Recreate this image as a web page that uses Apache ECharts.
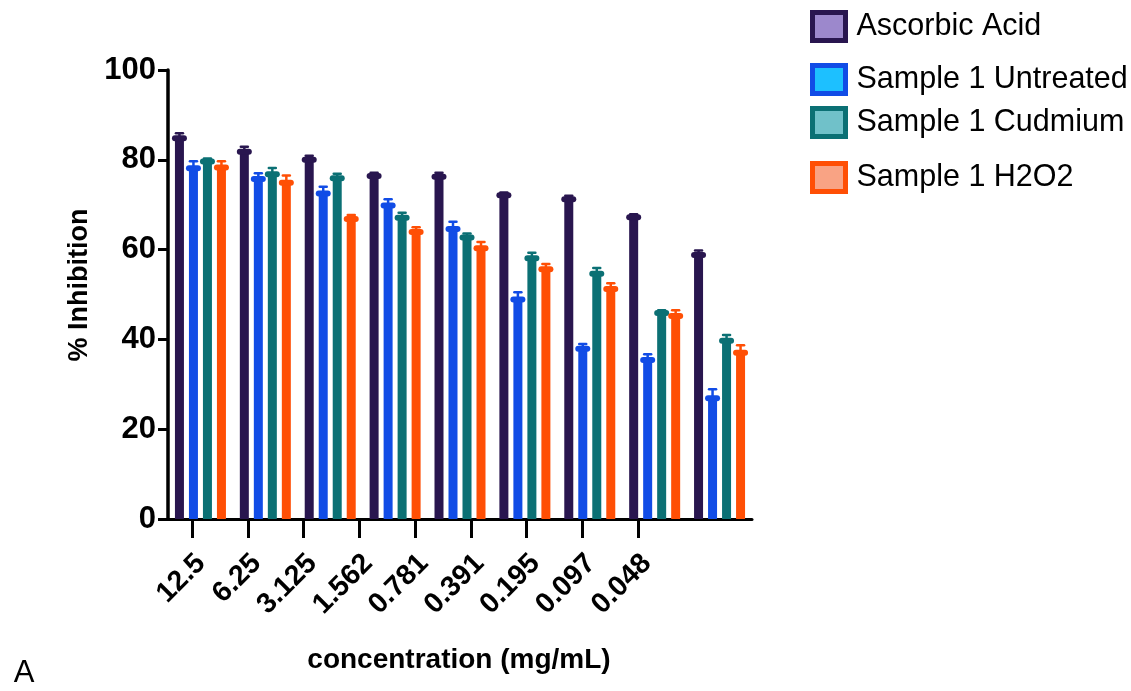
<!DOCTYPE html>
<html>
<head>
<meta charset="utf-8">
<script src="https://cdn.jsdelivr.net/npm/echarts@6/dist/echarts.min.js"></script>
<style>
html,body{margin:0;padding:0;background:#fff;}
#chart{width:1131px;height:691px;}
</style>
</head>
<body>
<div id="chart"></div>
<script>
// ---- data ----
const categories = ['12.5', '6.25', '3.125', '1.562', '0.781', '0.391', '0.195', '0.097', '0.048'];
const seriesNames = ['Ascorbic Acid', 'Sample 1 Untreated', 'Sample 1 Cudmium', 'Sample 1 H2O2'];
const ascorbicMean   = [84.8, 81.8, 80.0, 76.4, 76.2, 72.1, 71.2, 67.2, 58.8];
const ascorbicSD     = [1.1, 1.1, 0.9, 0.7, 0.9, 0.6, 0.8, 0.7, 1.0];
const untreatedMean  = [78.1, 75.7, 72.5, 69.8, 64.6, 48.9, 37.9, 35.4, 26.9];
const untreatedSD    = [1.6, 1.3, 1.5, 1.4, 1.6, 1.6, 1.1, 1.3, 2.0];
const cudmiumMean    = [79.6, 76.8, 75.9, 67.1, 62.7, 58.1, 54.6, 45.9, 39.7];
const cudmiumSD      = [0.7, 1.4, 1.0, 1.1, 0.9, 1.2, 1.3, 0.6, 1.3];
const h2o2Mean       = [78.3, 74.9, 66.8, 63.9, 60.3, 55.6, 51.2, 45.2, 37.0];
const h2o2SD         = [1.4, 1.6, 0.9, 1.1, 1.4, 1.2, 1.3, 1.3, 1.7];
const yTicks = [0, 20, 40, 60, 80, 100];

// ---- styles ----
const barColors  = ['#29164f', '#114ce6', '#0b7074', '#ff4f05'];
const lightFills = ['#9c88cc', '#1dc0ff', '#70c1c9', '#f9a384'];
const BAR_W = 9, BAR_GAP = 5;
const FONT = '"Liberation Sans", Arial, sans-serif';

const means = [ascorbicMean, untreatedMean, cudmiumMean, h2o2Mean];
const sds = [ascorbicSD, untreatedSD, cudmiumSD, h2o2SD];

const barSeries = seriesNames.map((name, k) => ({
  name: name,
  type: 'bar',
  xAxisIndex: 0, yAxisIndex: 0,
  barWidth: BAR_W,
  barGap: (BAR_GAP / BAR_W * 100) + '%',
  itemStyle: { color: barColors[k] },
  data: means[k],
  z: 2
}));

const errSeries = seriesNames.map((name, k) => ({
  name: 'err ' + name,
  type: 'custom',
  xAxisIndex: 0, yAxisIndex: 0,
  z: 3,
  data: means[k].map((v, i) => [i, v, sds[k][i]]),
  encode: { x: 0, y: 1 },
  renderItem: function (params, api) {
    const i = api.value(0), v = api.value(1), e = api.value(2);
    const base = api.coord([i, v]);
    const top = api.coord([i, v + e]);
    const n = seriesNames.length;
    const offset = (k - (n - 1) / 2) * (BAR_W + BAR_GAP);
    const cx = base[0] + offset;
    const col = barColors[k];
    return {
      type: 'group',
      children: [
        { type: 'line', shape: { x1: cx, y1: base[1], x2: cx, y2: top[1] }, style: { stroke: col, lineWidth: 2.5 } },
        { type: 'line', shape: { x1: cx - 3.5, y1: top[1], x2: cx + 3.5, y2: top[1] }, style: { stroke: col, lineWidth: 2.5, lineCap: 'round' } },
        { type: 'rect', shape: { x: cx - 7.5, y: base[1] - 3, width: 15, height: 6, r: 3 }, style: { fill: col } }
      ]
    };
  }
}));

const legendTops = [10, 63, 106, 161];
const legends = seriesNames.map((name, k) => ({
  left: 810,
  top: legendTops[k],
  padding: 0,
  orient: 'vertical',
  icon: 'rect',
  itemWidth: 33,
  itemHeight: 28,
  selectedMode: false,
  data: [{ name: name, itemStyle: { color: lightFills[k], borderColor: barColors[k], borderWidth: 5 } }],
  textStyle: { fontFamily: FONT, fontSize: 30.5, color: '#000', padding: [0, 0, 0, 6] }
}));

const chart = echarts.init(document.getElementById('chart'), null, { renderer: 'canvas' });
chart.setOption({
  backgroundColor: '#fff',
  animation: false,
  legend: legends,
  grid: [
    { left: 168, top: 70, width: 584, height: 449 },
    { left: 192, top: 70, width: 446, height: 449 },
    { left: 201, top: 70, width: 446, height: 449 }
  ],
  xAxis: [
    {
      type: 'category', gridIndex: 0, data: categories,
      axisLine: { show: true, lineStyle: { color: '#000', width: 3 } },
      axisTick: { show: false },
      axisLabel: { show: false },
      splitLine: { show: false }
    },
    {
      type: 'category', gridIndex: 1, data: categories, boundaryGap: false,
      axisLine: { show: false },
      axisTick: { show: true, length: 19, lineStyle: { color: '#000', width: 3 } },
      axisLabel: { show: false },
      splitLine: { show: false }
    },
    {
      type: 'category', gridIndex: 2, data: categories, boundaryGap: false,
      axisLine: { show: false },
      axisTick: { show: false },
      axisLabel: { show: true, rotate: 45, margin: 40, fontFamily: FONT, fontWeight: 'bold', fontSize: 28.5, color: '#000' },
      splitLine: { show: false }
    }
  ],
  yAxis: [
    {
      type: 'value', gridIndex: 0, min: yTicks[0], max: yTicks[yTicks.length - 1], interval: yTicks[1] - yTicks[0],
      axisLine: { show: true, lineStyle: { color: '#000', width: 3.5 } },
      axisTick: { show: true, length: 10, lineStyle: { color: '#000', width: 3 } },
      axisLabel: { margin: 12, fontFamily: FONT, fontWeight: 'bold', fontSize: 31, color: '#000' },
      splitLine: { show: false }
    },
    { type: 'value', gridIndex: 1, show: false, min: 0, max: 100 },
    { type: 'value', gridIndex: 2, show: false, min: 0, max: 100 }
  ],
  graphic: [
    { type: 'text', x: 80, y: 285, rotation: Math.PI / 2, style: { text: '% Inhibition', font: 'bold 27px ' + FONT, fill: '#000', textAlign: 'center', textVerticalAlign: 'middle' } },
    { type: 'text', x: 459, y: 660, style: { text: 'concentration (mg/mL)', font: 'bold 28px ' + FONT, fill: '#000', textAlign: 'center', textVerticalAlign: 'middle' } },
    { type: 'text', x: 24, y: 673, style: { text: 'A', font: '31px ' + FONT, fill: '#000', textAlign: 'center', textVerticalAlign: 'middle' } }
  ],
  series: barSeries.concat(errSeries)
});
</script>
</body>
</html>
